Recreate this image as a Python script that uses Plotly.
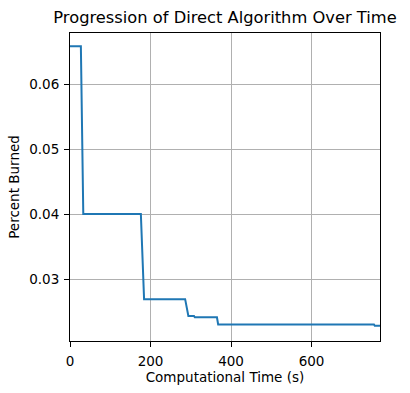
import plotly.graph_objects as go

time_s = [0, 27, 33, 176, 184, 286, 294, 308, 310, 365, 368, 755, 757, 770]
percent_burned = [0.0658, 0.0658, 0.0400, 0.0400, 0.0269, 0.0269, 0.0243, 0.0243,
                  0.0241, 0.0241, 0.0230, 0.0230, 0.0228, 0.0228]
x_ticks = [0, 200, 400, 600]
y_ticks = [0.03, 0.04, 0.05, 0.06]

fig = go.Figure(go.Scatter(x=time_s, y=percent_burned, mode="lines",
                           line=dict(color="#1f77b4", width=2), showlegend=False))

font = "DejaVu Sans"
fig.update_layout(
    width=410, height=393,
    margin=dict(l=70, r=30, t=33, b=52, autoexpand=False),
    paper_bgcolor="white", plot_bgcolor="white",
    font=dict(family=font, size=13.5, color="black"),
    title=dict(text="Progression of Direct Algorithm Over Time", x=225/410, xanchor="center",
               y=1-17/393, yanchor="middle", font=dict(size=16.3, family=font)),
)
fig.update_xaxes(range=[0, 770], tickvals=x_ticks, ticktext=[str(v) for v in x_ticks],
                 showgrid=True, gridcolor="#b0b0b0", gridwidth=1,
                 showline=True, linecolor="black", linewidth=1, mirror=True,
                 ticks="outside", ticklen=5, tickcolor="black", zeroline=False,
                 ticklabelstandoff=3,
                 title=dict(text="Computational Time (s)", font=dict(size=13.5), standoff=4))
fig.update_yaxes(range=[0.02046, 0.06785], tickvals=y_ticks, ticktext=[f"{v:.2f}" for v in y_ticks],
                 showgrid=True, gridcolor="#b0b0b0", gridwidth=1,
                 showline=True, linecolor="black", linewidth=1, mirror=True,
                 ticks="outside", ticklen=5, tickcolor="black", zeroline=False,
                 ticklabelstandoff=2,
                 title=dict(text="Percent Burned", font=dict(size=13.5), standoff=6))

fig.write_html("out.html", config={"displayModeBar": False},
               post_script="document.body.style.margin='0px';")
